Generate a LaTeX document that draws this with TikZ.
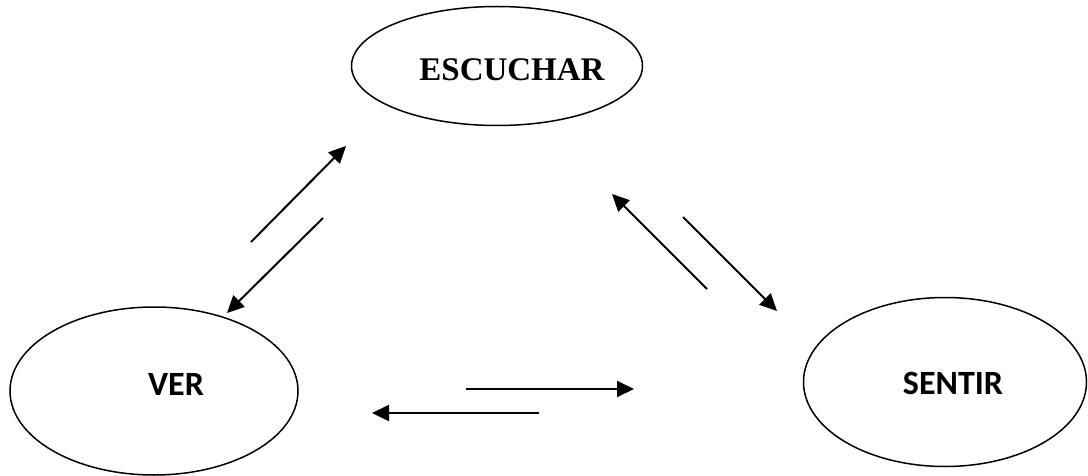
\documentclass[tikz,border=0pt]{standalone}
\usepackage{fontspec}
\usetikzlibrary{shapes.geometric,arrows.meta}
\newfontfamily\serifb{Liberation Serif}
\newfontfamily\calib{Carlito}
\tikzset{
  oval/.style={draw, line width=1.5pt, ellipse, inner sep=0pt},
  flow/.style={line width=2pt, -{Triangle[length=17pt,width=16pt]}},
}
\begin{document}
\begin{tikzpicture}[x=1pt,y=-1pt]
\useasboundingbox (0,0) rectangle (1088,476);
\node[oval, minimum width=291pt, minimum height=119pt] (esc) at (497,66) {};
\node[font=\serifb\bfseries\fontsize{33}{36}\selectfont] (esct) at (512,70) {ESCUCHAR};
\node[oval, minimum width=288pt, minimum height=168pt] (ver) at (154,391) {};
\node[font=\calib\bfseries\fontsize{34}{38}\selectfont] (vert) at (176,384) {VER};
\node[oval, minimum width=283pt, minimum height=169pt] (sen) at (945,382) {};
\node[font=\calib\bfseries\fontsize{34}{38}\selectfont] (sent) at (953,383) {SENTIR};
\coordinate (a1s) at (251,242); \coordinate (a1e) at (346,146);
\coordinate (a2s) at (323,218); \coordinate (a2e) at (227,313);
\coordinate (a3s) at (707,289); \coordinate (a3e) at (612,194);
\coordinate (a4s) at (683,217); \coordinate (a4e) at (777,311);
\coordinate (a5s) at (466,389); \coordinate (a5e) at (634,389);
\coordinate (a6s) at (539,413); \coordinate (a6e) at (372,413);
\draw[flow] (a1s) -- (a1e);
\draw[flow] (a2s) -- (a2e);
\draw[flow] (a3s) -- (a3e);
\draw[flow] (a4s) -- (a4e);
\draw[flow] (a5s) -- (a5e);
\draw[flow] (a6s) -- (a6e);
\end{tikzpicture}
\end{document}
